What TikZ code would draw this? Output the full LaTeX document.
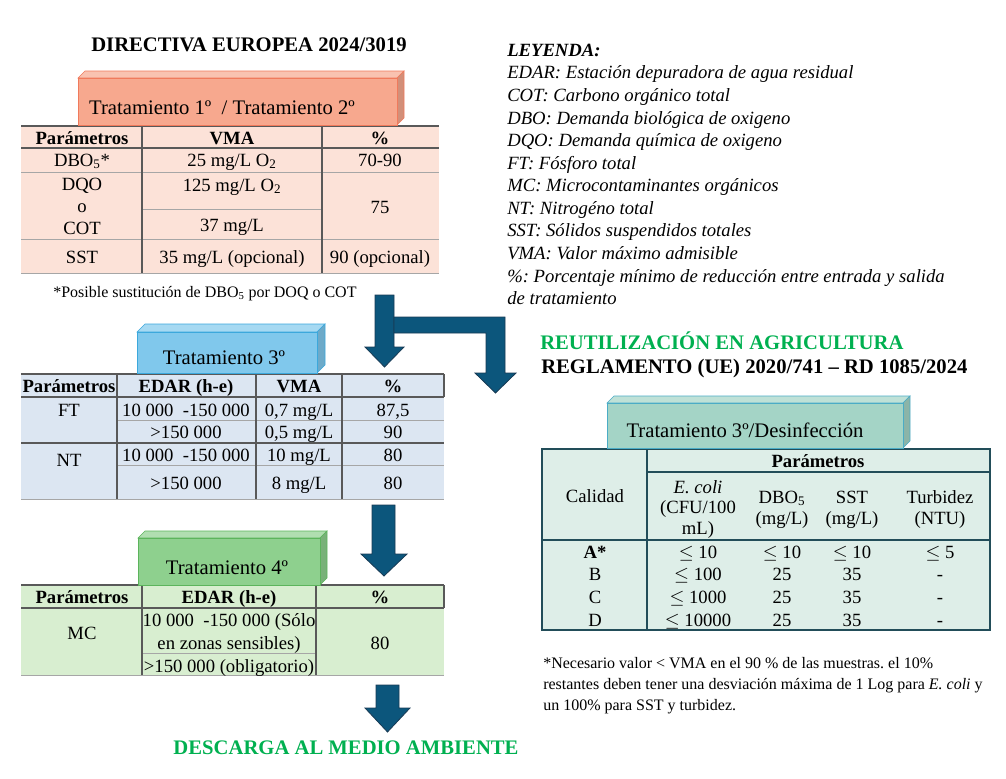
\documentclass[tikz,border=0pt]{standalone}
\usepackage{fontspec}
\setmainfont{Liberation Serif}
\usetikzlibrary{calc}
\frenchspacing

\definecolor{TRpinkFront}{RGB}{247,168,142}
\definecolor{TRpinkEdge}{RGB}{240,122,92}
\definecolor{TRpinkTab}{RGB}{252,226,216}
\definecolor{TRblueFront}{RGB}{128,200,236}
\definecolor{TRblueEdge}{RGB}{60,168,220}
\definecolor{TRblueTab}{RGB}{220,230,242}
\definecolor{TRgreenFront}{RGB}{142,208,142}
\definecolor{TRgreenEdge}{RGB}{92,180,92}
\definecolor{TRgreenTab}{RGB}{216,238,208}
\definecolor{TRtealFront}{RGB}{164,212,198}
\definecolor{TRtealEdge}{RGB}{75,172,198}
\definecolor{TRtealTab}{RGB}{222,238,232}
\definecolor{TRarrowFill}{RGB}{12,86,124}
\definecolor{TRarrowEdge}{RGB}{24,58,84}
\definecolor{TRgreenText}{RGB}{0,176,80}

\tikzset{
  TRcell/.style={anchor=base, yshift=-4.5pt, inner sep=0pt, font=\fontsize{14}{16}\selectfont},
  TRhead/.style={TRcell, font=\fontsize{14}{16}\selectfont\bfseries},
  TRtitle/.style={anchor=base, yshift=-5pt, inner sep=0pt, font=\fontsize{15.5}{18}\selectfont\bfseries},
  TRblocktext/.style={anchor=base, yshift=-5pt, inner sep=0pt, font=\fontsize{15.5}{18}\selectfont},
  TRlegend/.style={anchor=base west, yshift=-4.5pt, inner sep=0pt, font=\fontsize{14}{17}\selectfont\itshape},
  TRnote/.style={anchor=base west, yshift=-4pt, inner sep=0pt, font=\fontsize{12}{15}\selectfont},
  TRgrid/.style={draw=black!65, line width=0.9pt},
  TRthin/.style={draw=black!35, line width=0.6pt},
  TRarrowstyle/.style={fill=TRarrowFill, draw=TRarrowEdge, line width=0.6pt},
}

\newcommand{\TRBlock}[7]{
  \coordinate (#1-nw) at (#2,#3);
  \coordinate (#1-se) at (#4,#5);
  \filldraw[fill=#6Front!70!white, draw=#6Edge] (#2,#3) -- (#2+#7,#3-#7) -- (#4+#7,#3-#7) -- (#4,#3) -- cycle;
  \filldraw[fill=#6Front!85!black, draw=#6Edge] (#4,#3) -- (#4+#7,#3-#7) -- (#4+#7,#5-#7) -- (#4,#5) -- cycle;
  \filldraw[fill=#6Front, draw=#6Edge] (#1-nw) rectangle (#1-se);
}
\newcommand{\TRArrow}[8]{
  \coordinate (#1) at ({(#6+#7)/2},#8);
  \filldraw[TRarrowstyle] (#2,#4) -- (#3,#4) -- (#3,#5) -- (#7,#5) -- (#1) -- (#6,#5) -- (#2,#5) -- cycle;
}
\newcommand{\TRCell}[4]{
  \node[TRcell] (#1) at (#2,#3) {#4};
}

\begin{document}
\begin{tikzpicture}[x=0.75pt,y=-0.75pt]
\useasboundingbox (0,0) rectangle (1006,778);

\node[TRtitle] (dirTitle) at (249,45) {DIRECTIVA EUROPEA 2024/3019};

% legend
\node[TRlegend, font=\fontsize{14}{17}\selectfont\bfseries\itshape] (leg0) at (507,50) {LEYENDA:};
\node[TRlegend] (leg1) at (507,72) {EDAR: Estación depuradora de agua residual};
\node[TRlegend] (leg2) at (507,95) {COT: Carbono orgánico total};
\node[TRlegend] (leg3) at (507,118) {DBO: Demanda biológica de oxigeno};
\node[TRlegend] (leg4) at (507,140) {DQO: Demanda química de oxigeno};
\node[TRlegend] (leg5) at (507,163) {FT: Fósforo total};
\node[TRlegend] (leg6) at (507,185) {MC: Microcontaminantes orgánicos};
\node[TRlegend] (leg7) at (507,208) {NT: Nitrogéno total};
\node[TRlegend] (leg8) at (507,230) {SST: Sólidos suspendidos totales};
\node[TRlegend] (leg9) at (507,253) {VMA: Valor máximo admisible};
\node[TRlegend] (leg10) at (507,276) {\%: Porcentaje mínimo de reducción entre entrada y salida};
\node[TRlegend] (leg11) at (507,298) {de tratamiento};

% tratamiento 1 / 2
\fill[TRpinkTab] (21,126) rectangle (439,273);
\draw[TRthin] (21,172) -- (439,172);
\draw[TRthin] (21,239) -- (439,239);
\draw[TRthin] (142,209) -- (322,209);
\draw[TRthin] (21,273) -- (439,273);
\draw[TRgrid] (21,148) -- (439,148);
\draw[TRgrid] (21,126) -- (439,126);
\draw[TRgrid] (142,126) -- (142,273);
\draw[TRgrid] (322,126) -- (322,273);
\TRBlock{b1}{78}{78}{397}{125}{TRpink}{7}
\node[TRblocktext] (b1text) at (222,108) {Tratamiento 1º \ / Tratamiento 2º};

\node[TRhead] (t1h1) at (82,138) {Parámetros};
\node[TRhead] (t1h2) at (232,138) {VMA};
\node[TRhead] (t1h3) at (380,138) {\%};
\TRCell{t1a1}{82}{160}{DBO\textsubscript{5}*}
\TRCell{t1a2}{232}{160}{25 mg/L O\textsubscript{2}}
\TRCell{t1a3}{380}{160}{70-90}
\TRCell{t1b1}{82}{184}{DQO}
\TRCell{t1b2}{82}{206}{o}
\TRCell{t1b3}{82}{228}{COT}
\TRCell{t1b4}{232}{185}{125 mg/L O\textsubscript{2}}
\TRCell{t1b5}{232}{225}{37 mg/L}
\TRCell{t1b6}{380}{207}{75}
\TRCell{t1c1}{82}{257}{SST}
\TRCell{t1c2}{232}{257}{35 mg/L (opcional)}
\TRCell{t1c3}{380}{257}{90 (opcional)}
\node[TRnote] (note1) at (53,292) {*Posible sustitución de DBO\textsubscript{5} por DOQ o COT};

% arrows
\TRArrow{arr1}{375}{394}{295}{347}{365}{404}{367}
\coordinate (arr2) at (495.5,393);
\filldraw[TRarrowstyle] (394,317) -- (505,317) -- (505,373) -- (516,373) -- (arr2) -- (475,373) -- (486,373) -- (486,333) -- (394,333) -- cycle;
\TRArrow{arr3}{372}{395}{505}{554}{361}{407}{576}
\TRArrow{arr4}{376}{399}{685}{708}{365}{410}{732}

% tratamiento 3
\fill[TRblueTab] (21,374) rectangle (444,499);
\draw[TRthin] (117,420) -- (444,420);
\draw[TRthin] (117,465) -- (444,465);
\draw[TRthin] (21,499) -- (444,499);
\draw[TRgrid] (21,443) -- (444,443);
\draw[TRgrid] (21,397) -- (444,397);
\draw[TRgrid] (21,374) -- (444,374);
\draw[TRgrid] (444,374) -- (444,397);
\draw[TRgrid] (117,374) -- (117,499);
\draw[TRgrid] (256,374) -- (256,499);
\draw[TRgrid] (342,374) -- (342,499);
\TRBlock{b2}{137}{332}{317}{373}{TRblue}{8}
\node[TRblocktext] (b2text) at (224,358) {Tratamiento 3º};

\node[TRhead] (t2h1) at (69,386) {Parámetros};
\node[TRhead] (t2h2) at (186,386) {EDAR (h-e)};
\node[TRhead] (t2h3) at (299,386) {VMA};
\node[TRhead] (t2h4) at (393,386) {\%};
\TRCell{t2a1}{69}{410}{FT}
\TRCell{t2a2}{186}{410}{10 000 \ -150 000}
\TRCell{t2a3}{299}{410}{0,7 mg/L}
\TRCell{t2a4}{393}{410}{87,5}
\TRCell{t2b2}{186}{432}{>150 000}
\TRCell{t2b3}{299}{432}{0,5 mg/L}
\TRCell{t2b4}{393}{432}{90}
\TRCell{t2c1}{69}{460}{NT}
\TRCell{t2c2}{186}{455}{10 000 \ -150 000}
\TRCell{t2c3}{299}{455}{10 mg/L}
\TRCell{t2c4}{393}{455}{80}
\TRCell{t2d2}{186}{483}{>150 000}
\TRCell{t2d3}{299}{483}{8 mg/L}
\TRCell{t2d4}{393}{483}{80}

% tratamiento 4
\fill[TRgreenTab] (21,585) rectangle (444,675);
\draw[TRthin] (142,653) -- (316,653);
\draw[TRthin] (21,675) -- (444,675);
\draw[TRgrid] (21,585) -- (444,585);
\draw[TRgrid] (21,608) -- (444,608);
\draw[TRgrid] (444,585) -- (444,608);
\draw[TRgrid] (142,585) -- (142,675);
\draw[TRgrid] (316,585) -- (316,675);
\TRBlock{b3}{138}{538}{320}{585}{TRgreen}{7}
\node[TRblocktext] (b3text) at (227,568) {Tratamiento 4º};

\node[TRhead] (t3h1) at (82,597) {Parámetros};
\node[TRhead] (t3h2) at (229,597) {EDAR (h-e)};
\node[TRhead] (t3h3) at (380,597) {\%};
\TRCell{t3a1}{82}{633}{MC}
\TRCell{t3a2}{229}{620}{10 000 \ -150 000 (Sólo}
\TRCell{t3a3}{229}{643}{en zonas sensibles)}
\TRCell{t3a4}{229}{666}{>150 000 (obligatorio)}
\TRCell{t3a5}{380}{643}{80}

\node[TRtitle, text=TRgreenText] (dischTitle) at (346,748) {DESCARGA AL MEDIO AMBIENTE};

% reutilizacion
\node[TRtitle, anchor=base west, text=TRgreenText] (reuseTitle) at (540,343) {REUTILIZACIÓN EN AGRICULTURA};
\node[TRtitle, anchor=base west] (regTitle) at (541,367) {REGLAMENTO (UE) 2020/741 – RD 1085/2024};

\fill[TRtealTab] (542,449) rectangle (990,630);
\draw[TRgrid, draw=black!55!TRtealEdge] (542,449) rectangle (990,630);
\draw[TRgrid, draw=black!55!TRtealEdge] (647,449) -- (647,630);
\draw[TRgrid, draw=black!55!TRtealEdge] (647,472) -- (990,472);
\draw[TRgrid, draw=black!55!TRtealEdge] (542,540) -- (990,540);
\TRBlock{b4}{607}{403}{903}{448}{TRteal}{7}
\node[TRblocktext] (b4text) at (745,431) {Tratamiento 3º/Desinfección};

\TRCell{t4h1}{595}{496}{Calidad}
\node[TRhead] (t4h2) at (818,461) {Parámetros};
\TRCell{t4h3}{698}{487}{\textit{E. coli}}
\TRCell{t4h4}{698}{507}{(CFU/100}
\TRCell{t4h5}{698}{528}{mL)}
\TRCell{t4h6}{782}{497}{DBO\textsubscript{5}}
\TRCell{t4h7}{782}{518}{(mg/L)}
\TRCell{t4h8}{852}{497}{SST}
\TRCell{t4h9}{852}{518}{(mg/L)}
\TRCell{t4h10}{940}{497}{Turbidez}
\TRCell{t4h11}{940}{518}{(NTU)}
\node[TRhead] (t4a1) at (595,552) {A*};
\TRCell{t4a2}{698}{552}{$\leq$ 10}
\TRCell{t4a3}{782}{552}{$\leq$ 10}
\TRCell{t4a4}{852}{552}{$\leq$ 10}
\TRCell{t4a5}{940}{552}{$\leq$ 5}
\TRCell{t4b1}{595}{574}{B}
\TRCell{t4b2}{698}{574}{$\leq$ 100}
\TRCell{t4b3}{782}{574}{25}
\TRCell{t4b4}{852}{574}{35}
\TRCell{t4b5}{940}{574}{-}
\TRCell{t4c1}{595}{597}{C}
\TRCell{t4c2}{698}{597}{$\leq$ 1000}
\TRCell{t4c3}{782}{597}{25}
\TRCell{t4c4}{852}{597}{35}
\TRCell{t4c5}{940}{597}{-}
\TRCell{t4d1}{595}{620}{D}
\TRCell{t4d2}{698}{620}{$\leq$ 10000}
\TRCell{t4d3}{782}{620}{25}
\TRCell{t4d4}{852}{620}{35}
\TRCell{t4d5}{940}{620}{-}

\node[TRnote] (note2a) at (543,663) {*Necesario valor < VMA en el 90 \% de las muestras. el 10\%};
\node[TRnote] (note2b) at (543,684) {restantes deben tener una desviación máxima de 1 Log para \textit{E. coli} y};
\node[TRnote] (note2c) at (543,705) {un 100\% para SST y turbidez.};
\end{tikzpicture}
\end{document}
